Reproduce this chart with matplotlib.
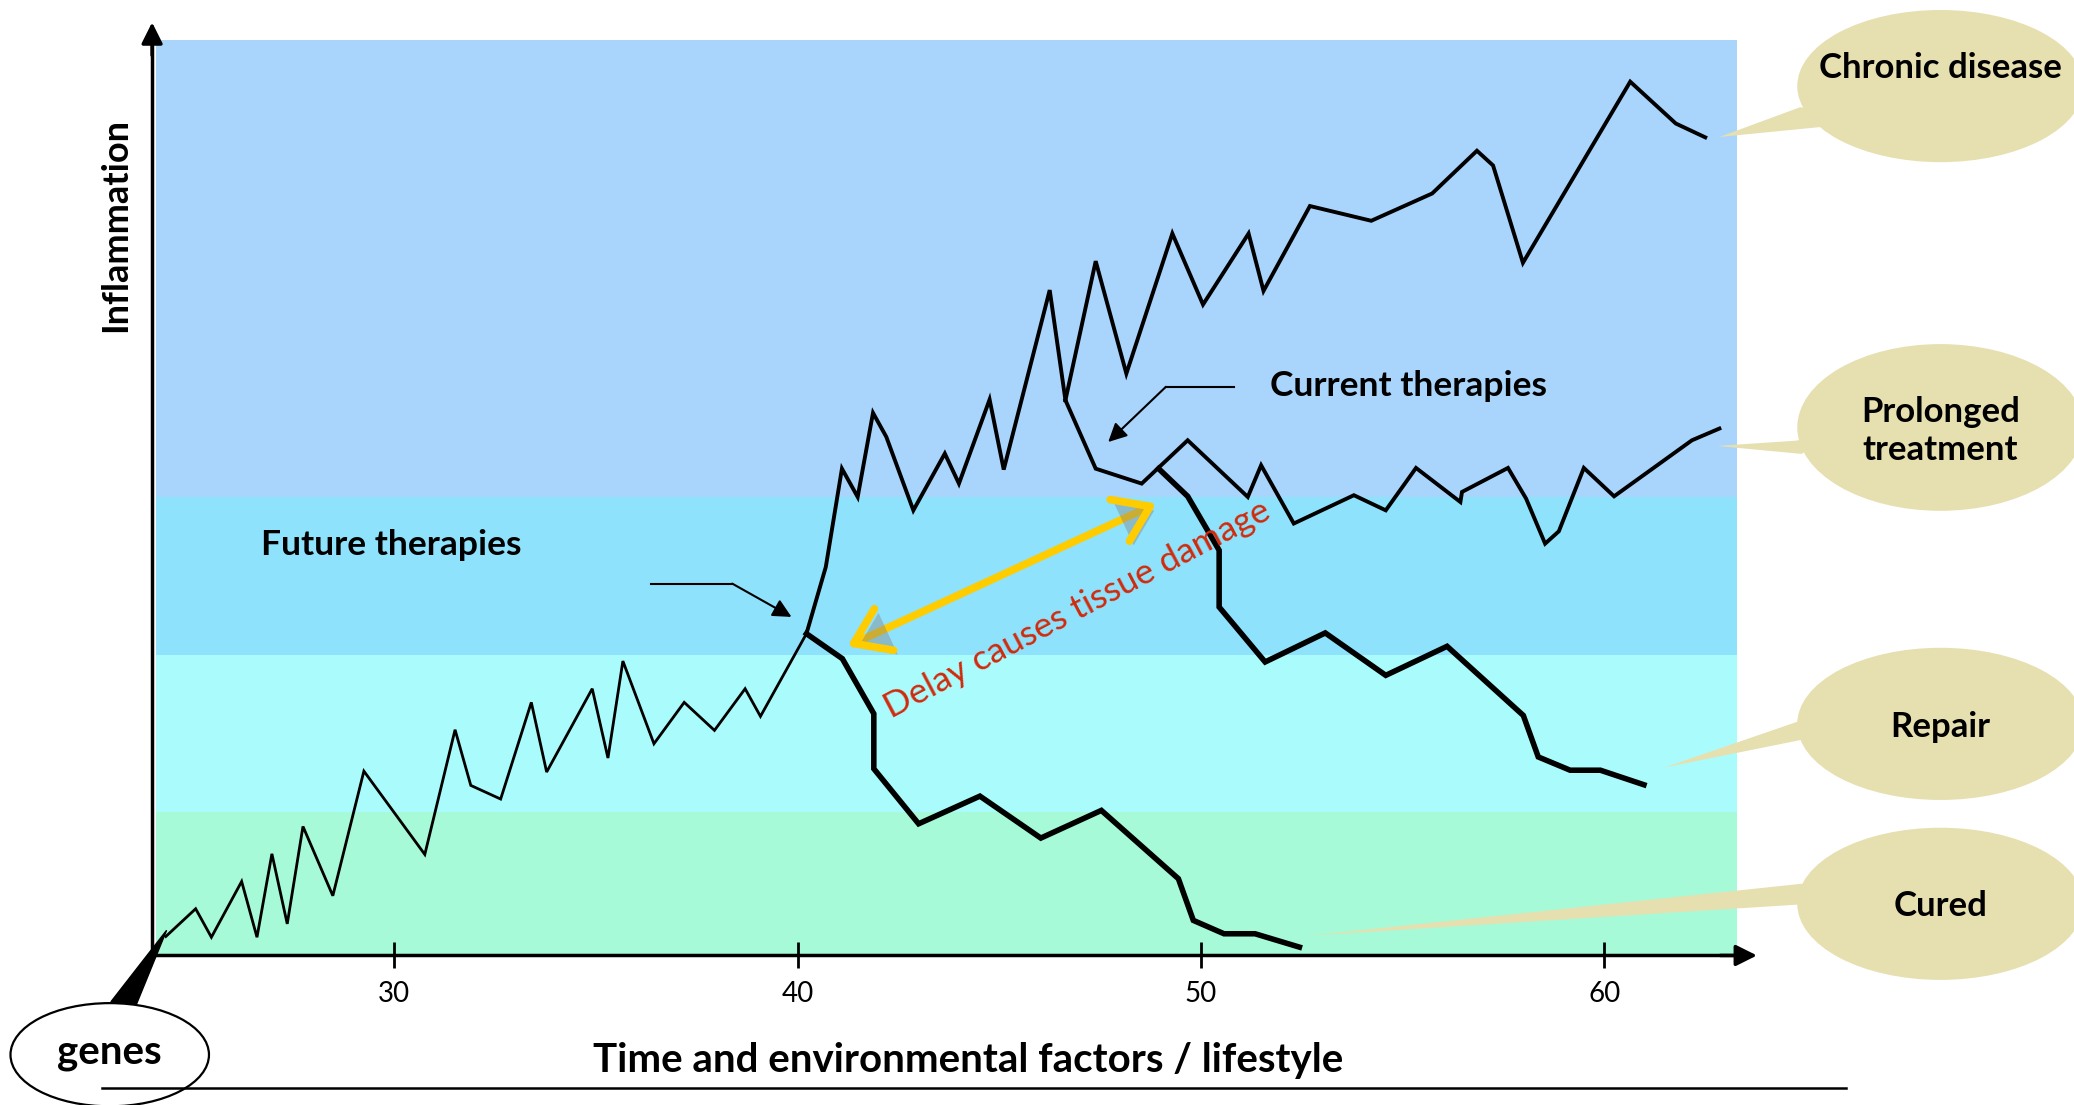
import matplotlib.pyplot as plt
from matplotlib.patches import Ellipse, Polygon
import matplotlib.patheffects as pe

plt.rcParams['font.family'] = ['Lato', 'DejaVu Sans']

# x = age (years), y = inflammation (0-100, arbitrary)
base_age = [24.34, 25.08, 25.47, 26.22, 26.60, 26.97, 27.35, 27.74, 28.48, 29.25, 30.76, 31.51, 31.90,
            32.64, 33.40, 33.78, 34.91, 35.30, 35.67, 36.44, 37.19, 37.94, 38.70, 39.08, 40.22]
base_level = [2.07, 5.10, 1.99, 8.08, 1.99, 11.10, 3.45, 14.09, 6.52, 20.13, 11.03, 24.65, 18.57,
              17.08, 27.64, 20.03, 29.13, 21.56, 32.15, 23.12, 27.64, 24.58, 29.13, 26.11, 35.14]

rise_age = [40.22, 40.70, 41.10, 41.49, 41.87, 42.20, 42.87, 43.65, 44.00, 44.76, 45.11, 46.25, 46.64]
rise_level = [35.14, 42.43, 53.16, 50.07, 59.25, 56.63, 48.61, 54.81, 51.53, 60.71, 53.06, 72.66, 60.64]

chronic_age = [46.64, 47.39, 48.15, 49.29, 50.05, 51.18, 51.55, 52.70, 54.22, 55.73, 56.84, 57.24,
               57.98, 60.64, 61.77, 62.50]
chronic_level = [60.64, 75.82, 63.54, 78.84, 71.08, 78.84, 72.57, 81.84, 80.23, 83.21, 87.88, 86.27,
                 75.64, 95.42, 90.85, 89.34]

prolonged_age = [46.64, 47.39, 48.53, 49.67, 51.16, 51.49, 52.30, 53.79, 54.58, 55.33, 56.43, 56.47,
                 57.61, 58.06, 58.53, 58.87, 59.49, 60.24, 62.17, 62.85]
prolonged_level = [60.64, 53.16, 51.53, 56.26, 50.07, 53.53, 47.17, 50.26, 48.61, 53.24, 49.52, 50.62,
                   53.24, 49.88, 44.97, 46.32, 53.24, 50.14, 56.26, 57.54]

repair_age = [48.95, 49.67, 50.45, 50.45, 51.59, 53.08, 54.58, 56.10, 57.99, 58.36, 59.15, 59.90, 60.98]
repair_level = [53.16, 50.14, 44.25, 38.05, 32.05, 35.22, 30.59, 33.76, 26.21, 21.68, 20.23, 20.23, 18.64]

cured_age = [40.22, 41.11, 41.89, 41.89, 43.00, 44.52, 46.03, 47.53, 49.44, 49.81, 50.57, 51.34, 52.44]
cured_level = [35.14, 32.41, 26.40, 20.39, 14.38, 17.40, 12.82, 15.84, 8.38, 3.83, 2.37, 2.37, 0.91]

# background zones
band_edges = [0, 15.65, 32.77, 50.07, 99.97]
band_colors = ['#A6FAD7', '#AAFCFC', '#8FE2FC', '#A9D4FC']
band_start, band_end = 24.1, 63.28

x_ticks = [30, 40, 50, 60]

outcomes = ['Chronic disease', 'Prolonged\ntreatment', 'Repair', 'Cured']
bubble_y = [94.94, 57.66, 25.29, 5.64]
bubble_h = [16.62, 18.21, 16.62, 16.62]
label_y = [96.9, 57.25, 25.0, 5.35]
tails = [
    [(62.85, 89.38), (64.85, 92.63), (66.13, 92.05), (65.34, 90.46)],
    [(62.79, 55.64), (64.72, 56.21), (65.48, 56.65), (64.89, 54.77)],
    [(61.48, 20.52), (64.82, 25.58), (65.64, 25.14), (64.89, 23.55)],
    [(52.69, 2.17), (64.89, 7.83), (65.80, 6.79), (64.82, 5.56)],
]
bubble_color = '#E6E0B0'

fig = plt.figure(figsize=(20.74, 11.05), dpi=100)
ax = fig.add_axes([0, 0, 1, 1])
ax.set_xlim(20.23, 71.64)
ax.set_ylim(-16.33, 104.34)

for lo, hi, c in zip(band_edges[:-1], band_edges[1:], band_colors):
    ax.fill_between([band_start, band_end], lo, hi, color=c, lw=0, zorder=0)

# axes with arrow heads
for s in ['top', 'right']:
    ax.spines[s].set_visible(False)
ax.spines['bottom'].set_position(('data', 0))
ax.spines['left'].set_position(('data', 24.0))
ax.spines['bottom'].set_bounds(24.0, 63.3)
ax.spines['left'].set_bounds(0, 100)
ax.spines['bottom'].set_linewidth(2.5)
ax.spines['left'].set_linewidth(2.5)
ax.annotate('', xy=(63.85, 0), xytext=(62.8, 0),
            arrowprops=dict(arrowstyle='-|>', color='k', lw=2.5, mutation_scale=32))
ax.annotate('', xy=(24.0, 102.2), xytext=(24.0, 98),
            arrowprops=dict(arrowstyle='-|>', color='k', lw=2.5, mutation_scale=32))

ax.set_xticks(x_ticks)
ax.set_yticks([])
ax.tick_params(axis='x', direction='inout', length=19, width=2, labelsize=20, pad=9)

ax.plot(base_age, base_level, color='k', lw=2, solid_joinstyle='miter', zorder=3)
ax.plot(rise_age, rise_level, color='k', lw=2.8, solid_joinstyle='miter', zorder=3)
ax.plot(chronic_age, chronic_level, color='k', lw=2.8, solid_joinstyle='miter', zorder=3)
ax.plot(prolonged_age, prolonged_level, color='k', lw=2.8, solid_joinstyle='miter', zorder=3)
ax.plot(repair_age, repair_level, color='k', lw=4, solid_joinstyle='miter', zorder=3)
ax.plot(cured_age, cured_level, color='k', lw=4, solid_joinstyle='miter', zorder=3)

# outcome bubbles
for name, yc, h, ly, tail in zip(outcomes, bubble_y, bubble_h, label_y, tails):
    ax.add_patch(Polygon(tail, closed=True, fc=bubble_color, ec='none', zorder=4))
    ax.add_patch(Ellipse((68.33, yc), 7.1, h, fc=bubble_color, ec='none', zorder=4))
    ax.text(68.33, ly, name, ha='center', va='center', fontsize=25, fontweight='bold',
            linespacing=1.25, zorder=5)

# genes bubble
ax.add_patch(Polygon([(22.98, -5.06), (23.61, -5.35), (24.36, 2.75)], closed=True,
                     fc='k', ec='k', lw=1, zorder=4))
ax.add_patch(Ellipse((22.95, -10.84), 4.92, 11.27, fc='none', ec='k', lw=1.6, zorder=4))
ax.text(22.95, -10.55, 'genes', ha='center', va='center', fontsize=29, fontweight='bold', zorder=5)

# labels
ax.plot([22.77, 66.0], [-14.45, -14.45], color='k', lw=1.8)
ax.text(44.23, -11.5, 'Time and environmental factors / lifestyle', ha='center', va='center',
        fontsize=29, fontweight='bold')
ax.text(23.1, 79.77, 'Inflammation', ha='center', va='center', rotation=90,
        fontsize=26, fontweight='bold')

ax.text(29.93, 44.8, 'Future therapies', ha='center', va='center', fontsize=25.5, fontweight='bold')
ax.text(55.15, 62.14, 'Current therapies', ha='center', va='center', fontsize=25.5, fontweight='bold')

ax.plot([36.36, 38.38], [40.61, 40.61], color='k', lw=1.5)
ax.annotate('', xy=(39.85, 36.97), xytext=(38.38, 40.61),
            arrowprops=dict(arrowstyle='-|>', color='k', lw=1.5, mutation_scale=28,
                            shrinkA=0, shrinkB=0))
ax.plot([50.81, 49.13], [62.10, 62.10], color='k', lw=1.5)
ax.annotate('', xy=(47.70, 56.07), xytext=(49.13, 62.10),
            arrowprops=dict(arrowstyle='-|>', color='k', lw=1.5, mutation_scale=28,
                            shrinkA=0, shrinkB=0))

# delay arrow
ax.annotate('', xy=(41.24, 33.76), xytext=(48.89, 49.35),
            arrowprops=dict(arrowstyle='<->,head_length=0.8,head_width=0.55', color='#FFCC00',
                            lw=5.5, mutation_scale=30, shrinkA=0, shrinkB=0,
                            path_effects=[pe.withSimplePatchShadow(offset=(3, -3),
                                                                   shadow_rgbFace='#808080',
                                                                   alpha=0.4)]),
            zorder=6)
ax.text(47.05, 36.85, 'Delay causes tissue damage', ha='center', va='baseline',
        rotation=27.8, rotation_mode='anchor', fontsize=25.5, color='#D02A0C', zorder=6)

fig.savefig('out.png', dpi=100)
